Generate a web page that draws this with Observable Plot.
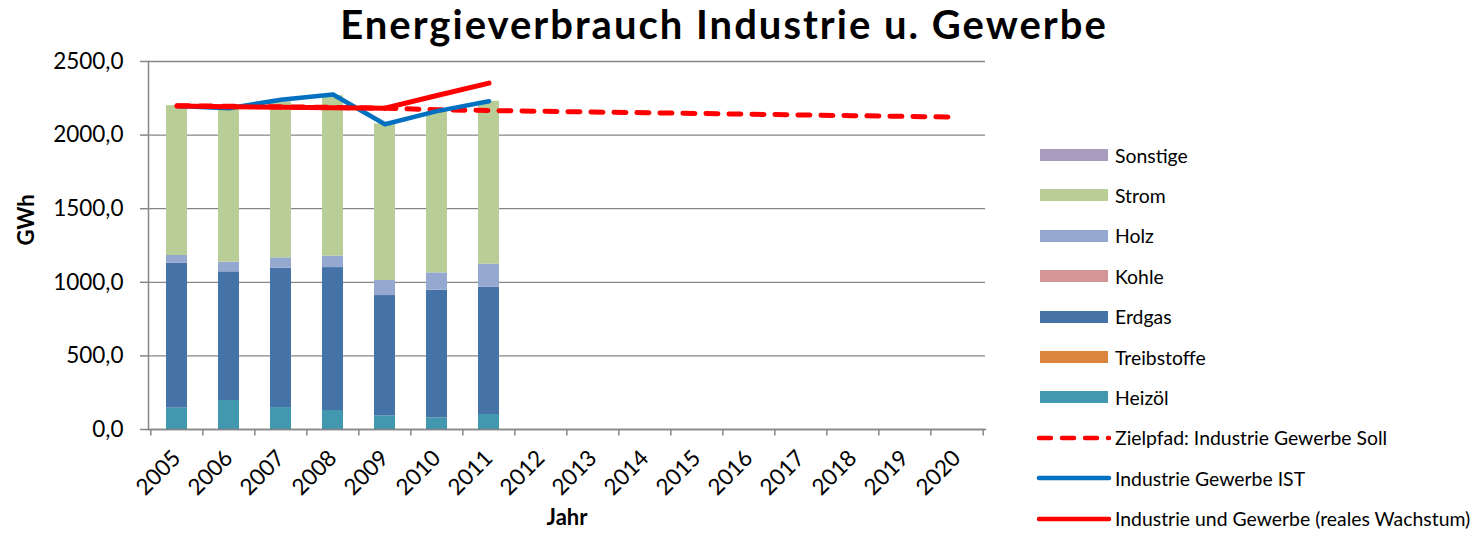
<!DOCTYPE html>
<html>
<head>
<meta charset="utf-8">
<script src="https://cdn.jsdelivr.net/npm/d3@7"></script>
<script src="https://cdn.jsdelivr.net/npm/@observablehq/plot@0.6"></script>
<style>
  html, body { margin: 0; padding: 0; background: #fff; }
  #wrap { position: relative; width: 1483px; height: 541px; overflow: hidden; font-family: Lato, "Open Sans", sans-serif; color: #000; background: #fff; }
  #title { position: absolute; left: 0; top: 0; width: 1448px; height: 48px; text-align: center; font-size: 40px; font-weight: bold; line-height: 1.2; letter-spacing: 2px; white-space: nowrap; z-index: 2; }
  #chart { position: absolute; left: 0; top: 48px; z-index: 1; }
  .leg-item { position: absolute; left: 1036px; height: 24px; display: flex; align-items: center; font-size: 19.4px; white-space: nowrap; }
  .leg-item svg { display: block; margin-right: 3px; }
</style>
</head>
<body>
<div id="wrap">
  <div id="title">Energieverbrauch Industrie u. Gewerbe</div>
  <div id="chart"></div>
  <div id="legend"></div>
</div>
<script>
// ---- data ----
const years = ["2005","2006","2007","2008","2009","2010","2011","2012","2013","2014","2015","2016","2017","2018","2019","2020"];
const barYears = ["2005","2006","2007","2008","2009","2010","2011"];

// stacked energy carriers (GWh), bottom to top
const heizoel     = [145, 197, 149, 129,  93,  79, 102];
const treibstoffe = [  0,   0,   0,   0,   0,   0,   0];
const erdgas      = [985, 874, 947, 971, 817, 867, 865];
const kohle       = [  0,   0,   0,   0,   0,   0,   0];
const holz        = [ 52,  66,  70,  78, 102, 118, 156];
const strom       = [1018, 1046, 1059, 1090, 1064, 1096, 1107];
const sonstige    = [  0,   0,   0,   0,   0,   0,   0];

// lines
const istYears = ["2005","2006","2007","2008","2009","2010","2011"];
const istValues = [2198, 2183, 2240, 2276, 2074, 2163, 2230];
const realYears = ["2005","2006","2007","2008","2009","2010","2011"];
const realValues = [2197, 2193, 2189, 2186, 2183, 2269, 2353];
const sollYears = years;
const sollValues = [2200, 2196, 2192, 2188, 2183, 2172, 2167, 2162, 2157, 2152, 2147, 2142, 2137, 2132, 2127, 2122];

const yTicks = [0, 500, 1000, 1500, 2000, 2500];

const stackNames = ["Heizöl", "Treibstoffe", "Erdgas", "Kohle", "Holz", "Strom", "Sonstige"];
const stackColors = ["#4198AF", "#DB843D", "#4572A7", "#D39595", "#95A9D0", "#B9CD96", "#A99BBD"];
const stackSeries = [heizoel, treibstoffe, erdgas, kohle, holz, strom, sonstige];

const lineNames = ["Zielpfad: Industrie Gewerbe Soll", "Industrie Gewerbe IST", "Industrie und Gewerbe (reales Wachstum)"];
const lineColors = ["#FF0000", "#0070C0", "#FF0000"];

// ---- build tables ----
const barData = [];
stackNames.forEach((name, k) => {
  barYears.forEach((yr, i) => barData.push({year: yr, type: name, value: stackSeries[k][i]}));
});
const istData = istYears.map((yr, i) => ({year: yr, value: istValues[i]}));
const realData = realYears.map((yr, i) => ({year: yr, value: realValues[i]}));
const sollData = sollYears.map((yr, i) => ({year: yr, value: sollValues[i]}));

// ---- layout ----
const W = 1000, H = 493;
const mL = 148, mR = 15, mT = 13, mB = 112;
const step = (W - mL - mR) / years.length;
const gray = "#868686";
const fmt = d => d.toFixed(1).replace(".", ",");

const chart = Plot.plot({
  width: W, height: H,
  marginLeft: mL, marginRight: mR, marginTop: mT, marginBottom: mB,
  style: {fontFamily: "Lato, 'Open Sans', sans-serif", fontSize: "22px", color: "#000", background: "transparent", overflow: "visible"},
  x: {type: "band", domain: years, paddingInner: 0.6, paddingOuter: 0.3, label: null},
  y: {domain: [0, 2500], label: null},
  color: {domain: stackNames, range: stackColors},
  marks: [
    Plot.gridY(yTicks, {stroke: gray, strokeOpacity: 1, strokeWidth: 1.3}),
    Plot.barY(barData, {x: "year", y: "value", fill: "type", order: stackNames}),
    Plot.frame({anchor: "left", stroke: gray, strokeWidth: 1.5}),
    Plot.frame({anchor: "bottom", stroke: gray, strokeWidth: 1.5}),
    Plot.axisY(yTicks, {tickSize: 8, tickPadding: 17, tickFormat: fmt, stroke: gray, strokeWidth: 1.5, fill: "#000", fontSize: 22.5, label: null}),
    Plot.ruleX(years, {x: d => d, dx: -step / 2, y1: 0, y2: -45, stroke: gray, strokeWidth: 1.5}),
    Plot.ruleX([years[years.length - 1]], {x: d => d, dx: step / 2, y1: 0, y2: -45, stroke: gray, strokeWidth: 1.5}),
    Plot.axisX({tickSize: 0, tickRotate: -45, tickPadding: 25, fontSize: 22.5, fill: "#000", label: null}),
    Plot.line(sollData, {x: "year", y: "value", stroke: lineColors[0], strokeWidth: 5, strokeDasharray: "12,11", strokeLinecap: "round"}),
    Plot.line(istData, {x: "year", y: "value", stroke: lineColors[1], strokeWidth: 4.5, strokeLinecap: "round", strokeLinejoin: "round"}),
    Plot.line(realData, {x: "year", y: "value", stroke: lineColors[2], strokeWidth: 5, strokeLinecap: "round", strokeLinejoin: "round"}),
    Plot.text(["GWh"], {frameAnchor: "left", dx: -122, rotate: -90, fontWeight: "bold", fontSize: 22, fill: "#000"}),
    Plot.text(["Jahr"], {frameAnchor: "bottom", dy: 95, fontWeight: "bold", fontSize: 22, fill: "#000"})
  ]
});
document.getElementById("chart").appendChild(chart);

// ---- legend (HTML, right side) ----
const legend = document.getElementById("legend");
const legendEntries = [];
[...stackNames].reverse().forEach(name => legendEntries.push({kind: "rect", name, color: stackColors[stackNames.indexOf(name)]}));
lineNames.forEach((name, i) => legendEntries.push({kind: "line", name, color: lineColors[i], dashed: i === 0}));
const legTop = 155, legGap = 40.4;
legendEntries.forEach((e, i) => {
  const item = document.createElement("div");
  item.className = "leg-item";
  item.style.top = (legTop + i * legGap - 12) + "px";
  let sw;
  if (e.kind === "rect") {
    sw = `<svg width="76" height="14"><rect x="4" y="1" width="68" height="12" fill="${e.color}"/></svg>`;
  } else {
    sw = `<svg width="76" height="14"><line x1="3" y1="7" x2="73" y2="7" stroke="${e.color}" stroke-width="4.5" stroke-linecap="round" ${e.dashed ? 'stroke-dasharray="12,11"' : ''}/></svg>`;
  }
  item.innerHTML = sw + `<span>${e.name}</span>`;
  legend.appendChild(item);
});
</script>
</body>
</html>
